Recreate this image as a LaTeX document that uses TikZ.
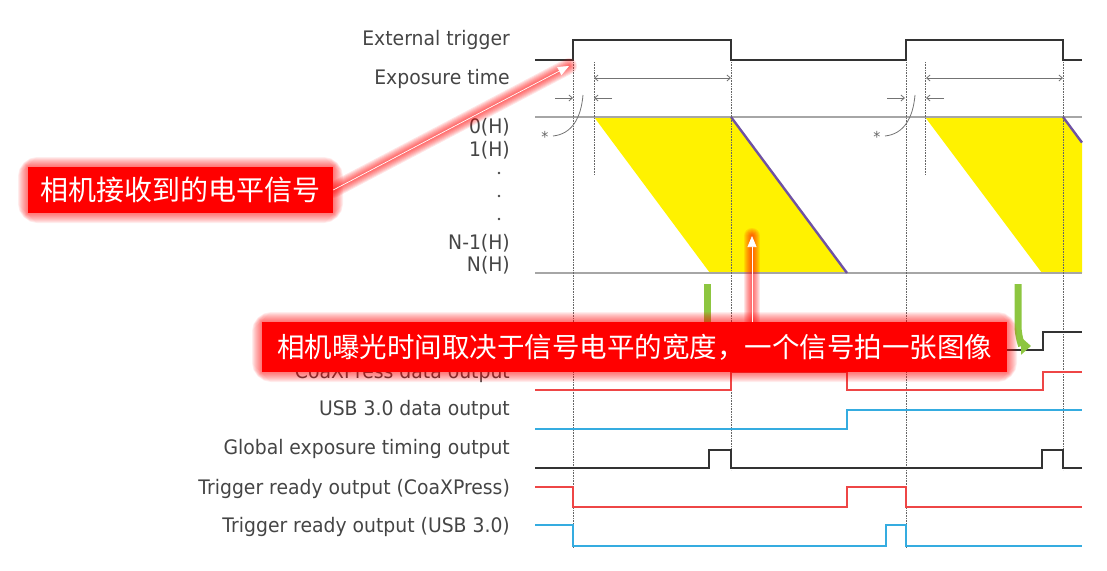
\documentclass[tikz,border=0pt]{standalone}
\usepackage{fontspec}
\setmainfont[FakeStretch=0.94]{DejaVu Sans}
\newfontfamily\cjkfont{Noto Sans CJK SC}
\usetikzlibrary{positioning,arrows.meta}

\definecolor{sigred}{HTML}{EE4646}
\definecolor{sigblue}{HTML}{35ACE0}
\definecolor{sigblack}{HTML}{333333}
\definecolor{rowgray}{HTML}{A6A6A6}
\definecolor{lblgray}{HTML}{454545}
\definecolor{readpurple}{HTML}{6E52A3}
\definecolor{greenarr}{HTML}{8DC640}
\definecolor{boxred}{HTML}{FF0000}

\begin{document}
\begin{tikzpicture}[x=1pt,y=-1pt,
    lbl/.style={anchor=east,text=lblgray,inner sep=0pt,font=\fontsize{20}{20}\selectfont},
    wave/.style={line width=1.8pt,line join=miter},
    rowline/.style={line width=1.4pt,rowgray},
    guide/.style={densely dotted,line width=0.6pt,black!60},
    dimarrow/.style={line width=0.8pt,black!55,-{Straight Barb[length=3.5pt,width=6pt]}},
    callout/.style={fill=boxred,text=white,inner sep=0pt},
    halo/.style={boxred,opacity=0.07},
    pointer/.style={white,line width=0.7pt,-{Triangle[length=11pt,width=9pt]}}]
    \useasboundingbox (0,0) rectangle (1107,570);

    % signal names
    \node[lbl] (ext) at (510,40) {External trigger};
    \node[lbl] (exp) at (510,79) {Exposure time};
    \node[lbl] (h0) at (510,127) {0(H)};
    \node[lbl] (h1) at (510,150) {1(H)};
    \foreach \y in {173,196,219}
        \fill[lblgray] (499,\y) circle (1.4pt);
    \node[lbl] (hn1) at (510,243) {N-1(H)};
    \node[lbl] (hn) at (510,265) {N(H)};
    \node[lbl] (readout) at (510,333) {Sensor readout};
    \node[lbl] (cxpdata) at (510,373) {CoaXPress data output};
    \node[lbl] (usbdata) at (510,410) {USB 3.0 data output};
    \node[lbl] (global) at (510,449) {Global exposure timing output};
    \node[lbl] (cxprdy) at (510,489) {Trigger ready output (CoaXPress)};
    \node[lbl] (usbrdy) at (510,527) {Trigger ready output (USB 3.0)};

    % exposure of the rows
    \fill[yellow] (594,117) -- (731,117) -- (847,273) -- (710,273) -- cycle;
    \fill[yellow] (925,117) -- (1063,117) -- (1082,142.6) -- (1082,273) -- (1042,273) -- cycle;
    \draw[rowline] (535,117) -- (1082,117);
    \draw[rowline] (535,273) -- (1082,273);
    \draw[readpurple,line width=2.4pt] (731,117) -- (847,273);
    \draw[readpurple,line width=2.4pt] (1063,117) -- (1082,142.6);

    % guides
    \foreach \x/\e in {573/548,594/175,731/470,906/548,925/175,1063/470}
        \draw[guide] (\x,62) -- (\x,\e);

    \foreach \s in {0,332}{
        \draw[dimarrow,{Straight Barb[length=3.5pt,width=6pt]}-{Straight Barb[length=3.5pt,width=6pt]}] (594+\s,78) -- (731+\s,78);
        \draw[dimarrow] (555+\s,98) -- (573+\s,98);
        \draw[dimarrow] (612+\s,98) -- (594+\s,98);
        \node[text=black!60,font=\fontsize{15}{15}\selectfont,inner sep=0pt] at (545+\s,137) {*};
        \draw[black!55,line width=0.8pt] (553+\s,136) .. controls (572+\s,134) and (581+\s,118) .. (583+\s,95);
    }

    % waveforms
    \draw[wave,sigblack] (535,60) -| (573,40) -| (731,60) -| (906,40) -| (1063,60) -- (1082,60);
    \draw[wave,sigblack] (535,350) -| (710,332) -| (847,350) -| (1043,332) -- (1082,332);
    \draw[wave,sigred] (535,390) -| (731,372) -| (847,390) -| (1043,372) -- (1082,372);
    \draw[wave,sigblue] (535,429) -| (847,410) -- (1082,410);
    \draw[wave,sigblack] (535,468) -| (709,450) -| (731,468) -| (1042,450) -| (1063,468) -- (1082,468);
    \draw[wave,sigred] (535,487) -| (573,507) -| (847,487) -| (906,507) -- (1082,507);
    \draw[wave,sigblue] (535,525) -| (573,546) -| (886,525) -| (906,546) -- (1082,546);

    % readout arrows
    \draw[greenarr,line width=7pt] (707,284) -- (707,330);
    \draw[greenarr,line width=7pt,-{Triangle[length=10pt,width=17pt]}]
        (1018,284) -- (1018,326) to[out=-90,in=180] (1031,346);

    % notes
    \foreach \w in {1,...,10}
        \draw[halo,line width=2*\w pt,rounded corners=\w pt] (28,167) rectangle (333,213);
    \node[callout,minimum width=305pt,minimum height=46pt,
        font=\cjkfont\fontsize{28}{28}\selectfont] (rcv) at (180.5,190) {相机接收到的电平信号};
    \coordinate (edge) at (569,66);
    \foreach \w in {2,4,...,16}
        \draw[halo,opacity=0.1,line cap=round,line width=\w pt] (rcv.east) -- (edge);
    \draw[pointer] (rcv.east) -- (edge);

    \coordinate (width) at (752,236);
    \foreach \w in {2,4,...,16}
        \draw[halo,opacity=0.1,line cap=round,line width=\w pt] (752,322) -- (width);
    \foreach \w in {1,...,10}
        \draw[halo,line width=2*\w pt,rounded corners=\w pt] (262,322) rectangle (1007,372);
    \node[callout,minimum width=745pt,minimum height=50pt,
        font=\cjkfont\fontsize{27.5}{27.5}\selectfont] (wid) at (634.5,347) {相机曝光时间取决于信号电平的宽度，一个信号拍一张图像};
    \draw[pointer] (wid.north -| width) -- (width);
\end{tikzpicture}
\end{document}
